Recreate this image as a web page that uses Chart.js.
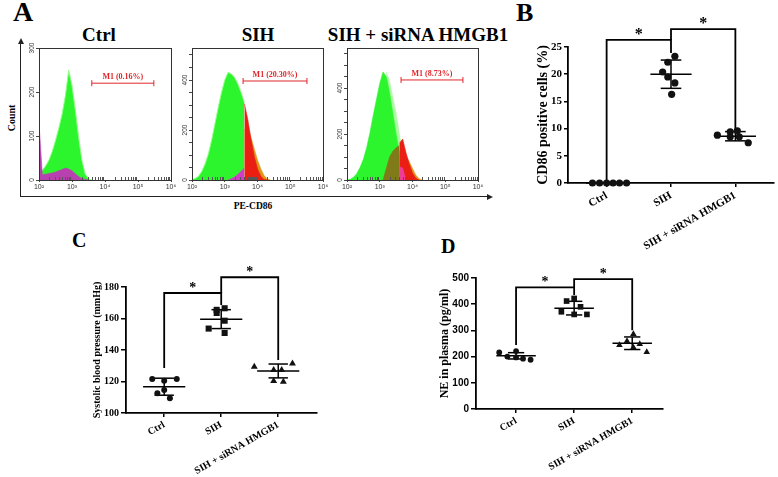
<!DOCTYPE html>
<html>
<head>
<meta charset="utf-8">
<script src="https://cdn.jsdelivr.net/npm/chart.js@4.4.0/dist/chart.umd.min.js"></script>
<style>
  body { margin: 0; background: #fff; }
  #fig { position: relative; width: 778px; height: 477px; overflow: hidden; font-family: "Liberation Serif", "Times New Roman", serif; }
  canvas { position: absolute; }
  .lbl { position: absolute; font-weight: bold; color: #000; white-space: nowrap; line-height: 1; }
  .ctr { text-align: center; width: 200px; }
  .frame { position: absolute; left: 20px; top: 43px; width: 467px; height: 153px; border-left: 1.3px solid #222; border-bottom: 1.3px solid #222; }
  .arrUp { position: absolute; left: 17.6px; top: 38px; width: 0; height: 0; border-left: 3px solid transparent; border-right: 3px solid transparent; border-bottom: 6px solid #222; }
  .arrRight { position: absolute; left: 487px; top: 193.6px; width: 0; height: 0; border-top: 3px solid transparent; border-bottom: 3px solid transparent; border-left: 6px solid #222; }
</style>
</head>
<body>
<div id="fig">
  <div class="lbl" style="left:13px;top:-2px;font-size:28px">A</div>
  <div class="lbl" style="left:516px;top:0px;font-size:26px">B</div>
  <div class="lbl" style="left:72px;top:230px;font-size:20px">C</div>
  <div class="lbl" style="left:441px;top:236px;font-size:20px">D</div>

  <div class="lbl ctr" style="left:-1px;top:25px;font-size:19px">Ctrl</div>
  <div class="lbl ctr" style="left:158px;top:25px;font-size:19px">SIH</div>
  <div class="lbl ctr" style="left:318px;top:25px;font-size:19px">SIH + siRNA HMGB1</div>
  <div class="lbl" style="left:12px;top:118px;font-size:10px;transform:translate(-50%,-50%) rotate(-90deg)">Count</div>
  <div class="lbl" style="left:253px;top:207px;font-size:9.5px;transform:translate(-50%,-50%)">PE-CD86</div>

  <div class="frame"></div>
  <div class="arrUp"></div>
  <div class="arrRight"></div>

  <canvas id="hCtrl" width="154" height="156" style="left:24px;top:40px"></canvas>
  <canvas id="hSih" width="153" height="156" style="left:178px;top:40px"></canvas>
  <canvas id="hKd" width="154" height="156" style="left:332px;top:40px"></canvas>
  <canvas id="chartB" width="278" height="272" style="left:500px;top:0px"></canvas>
  <canvas id="chartC" width="280" height="227" style="left:60px;top:250px"></canvas>
  <canvas id="chartD" width="270" height="217" style="left:420px;top:260px"></canvas>
</div>

<script>
/* ================================================================
   CD86 / SIH figure: flow histograms (A) + dot plots (B, C, D)
   ================================================================ */

// ── A: histogram bins, x = log10(PE-CD86 intensity) ─────────────
var histBins = [2.0, 2.1, 2.2, 2.3, 2.4, 2.5, 2.6, 2.7, 2.8, 2.9, 3.0, 3.1, 3.2,
                3.3, 3.4, 3.5, 3.6, 3.7, 3.8, 3.9, 4.0, 4.1, 4.2, 4.3, 4.4, 4.5];
var histDecades = [2, 3, 4, 5, 6];

var ctrlGreen   = [12, 22, 32, 45, 65, 90, 118, 150, 192, 250, 215, 160, 98, 45, 14, 3, 0,
                   null, null, null, null, null, null, null, null, null];
var ctrlMagenta = [130, 12, 13, 15, 16, 18, 21, 24, 27, 25, 21, 14, 8, 3, 1, 0,
                   null, null, null, null, null, null, null, null, null, null];

var sihGreen   = [2, 6, 15, 35, 65, 105, 160, 225, 290, 350, 400, 430, 425, 410, 385, 350, 310,
                  null, null, null, null, null, null, null, null, null];
var sihMagenta = [null, null, null, null, null, null, null, null, null, null, null,
                  0, 5, 12, 22, 35, 48, null, null, null, null, null, null, null, null, null];
var sihRed     = [null, null, null, null, null, null, null, null, null, null, null, null, null, null, null, null,
                  305, 245, 165, 95, 45, 15, 2, 0, null, null];
var sihOrange  = [null, null, null, null, null, null, null, null, null, null, null, null, null, null, null, null,
                  200, 210, 170, 125, 80, 45, 18, 4, 0, null];

var kdPale    = [null, null, null, null, null, null, null, null, null, null, null, null,
                 470, 430, 360, 290, 200, 110, 40, 8, 0, null, null, null, null, null];
var kdGreen   = [0, 3, 12, 28, 55, 90, 140, 205, 280, 350, 420, 470, 450, 380, 290, 200, 120, 60, 20, 0,
                 null, null, null, null, null, null];
var kdOlive   = [null, null, null, null, null, null, null, null, null, null, null,
                 0, 50, 100, 125, 140, 150, null, null, null, null, null, null, null, null, null];
var kdRed     = [null, null, null, null, null, null, null, null, null, null, null, null, null, null, null, null,
                 160, 178, 120, 70, 30, 8, 0, null, null, null];
var kdOrange  = [null, null, null, null, null, null, null, null, null, null, null, null, null, null, null, null,
                 110, 120, 105, 80, 50, 22, 5, 0, null, null];
var kdMagenta = [null, null, null, null, null, null, null, null, null, null, null, null, null, null, null, null,
                 58, 52, 0, null, null, null, null, null, null, null];

var gateText  = ['M1 (0.16%)', 'M1 (20.30%)', 'M1 (8.73%)'];
var gateRange = [[3.6, 5.48], [3.56, 5.51], [3.65, 5.54]];

// ── B / C / D: dot plots ────────────────────────────────────────
var groupNames = ['Ctrl', 'SIH', 'SIH + siRNA HMGB1'];

var cd86Ctrl = [0, 0, 0, 0, 0, 0];
var cd86Sih  = [23.3, 22.2, 20.4, 19.5, 18.4, 16.3];
var cd86Kd   = [8.8, 9.4, 9.6, 8.5, 8.5, 7.4];
var cd86Mean = [0, 20.0, 8.6];
var cd86Sd   = [0, 2.6, 0.85];
var cd86Sig  = [[0, 26.3, 23.9], [26.3, 28.3, 9.6]];      // [left foot, top, right foot]
var cd86Ticks = [0, 5, 10, 15, 20, 25];

var sbpCtrl = [121.6, 120.5, 121.6, 112.5, 114.6, 109.3];
var sbpSih  = [165.5, 166.5, 163.5, 158.6, 153.6, 150.8];
var sbpKd   = [129.4, 127.3, 127.3, 131.5, 120.3, 119.9];
var sbpMean = [116.7, 159.6, 126.7];
var sbpSd   = [5.4, 6.0, 4.4];
var sbpSig  = [[128.5, 176.2, 168.6], [176.2, 186.2, 133.7]];
var sbpTicks = [100, 120, 140, 160, 180];

var neCtrl = [216, 200, 221, 197, 192, 188];
var neSih  = [412, 422, 390, 371, 361, 361];
var neKd   = [286, 244, 259, 248, 235, 217];
var neMean = [203, 385, 251];
var neSd   = [12, 26, 24];
var neSig  = [[244, 464, 435], [464, 496, 301]];
var neTicks = [0, 100, 200, 300, 400, 500];

// horizontal scatter of the dots inside each column (layout only)
var spreadB = [[-0.22, -0.11, 0, 0.1, 0.2, 0.31], [0.06, -0.05, -0.13, -0.05, 0.06, 0.01], [-0.28, -0.08, 0.03, -0.08, 0.06, 0.2]];
var spreadC = [[-0.21, 0, 0.22, -0.12, 0, 0.1], [-0.08, 0.06, -0.08, 0.06, -0.22, 0.06], [-0.42, -0.08, 0.06, 0.25, -0.08, 0.09]];
var spreadD = [[-0.29, -0.15, 0, 0, 0.12, 0.25], [-0.13, 0, 0.11, -0.22, 0, 0.22], [0.02, -0.22, -0.09, 0.13, 0.02, 0.25]];

var SERIF = '"Liberation Serif", "Times New Roman", serif';
var SANS = '"Liberation Sans", Arial, sans-serif';
var SUP = { 2: '\u00B2', 3: '\u00B3', 4: '\u2074', 5: '\u2075', 6: '\u2076' };

/* ── histogram decoration: frame, log minor ticks, rotated count labels, gate label ── */
var histDecor = {
    id: 'histDecor',
    afterDraw: function (chart, args, opts) {
        var ctx = chart.ctx, a = chart.chartArea;
        var xs = chart.scales.x, ys = chart.scales.y;
        ctx.save();
        ctx.strokeStyle = '#333';
        ctx.lineWidth = 1;
        ctx.strokeRect(a.left + 0.5, a.top + 0.5, a.right - a.left, a.bottom - a.top);

        ctx.strokeStyle = '#555';
        ctx.beginPath();
        for (var d = 2; d < 6; d++) {
            for (var k = 2; k < 10; k++) {
                var px = Math.round(xs.getPixelForValue(d + Math.log10(k))) + 0.5;
                ctx.moveTo(px, a.bottom);
                ctx.lineTo(px, a.bottom - 3);
            }
        }
        ctx.stroke();

        ctx.fillStyle = '#333';
        ctx.font = '6.5px ' + SANS;
        ctx.textAlign = 'center';
        ctx.textBaseline = 'middle';
        opts.yLabels.forEach(function (v) {
            ctx.save();
            ctx.translate(a.left - 7, ys.getPixelForValue(v));
            ctx.rotate(-Math.PI / 2);
            ctx.fillText(String(v), 0, 0);
            ctx.restore();
        });

        var g = opts.gate;
        ctx.fillStyle = '#e0262a';
        ctx.font = 'bold 8px ' + SERIF;
        ctx.textBaseline = 'alphabetic';
        ctx.fillText(g.text, (xs.getPixelForValue(g.from) + xs.getPixelForValue(g.to)) / 2, ys.getPixelForValue(g.level) - 4);
        ctx.restore();
    }
};

function binPoints(values) {
    var pts = [];
    values.forEach(function (v, i) {
        if (v !== null) pts.push({ x: histBins[i], y: v });
    });
    return pts;
}

function histChart(id, layers, yMax, yStep, yLabels, gate, pad) {
    var datasets = layers.map(function (l, i) {
        return {
            data: binPoints(l.values),
            backgroundColor: l.fill,
            borderColor: l.line || l.fill,
            borderWidth: l.line ? 1 : 0.6,
            fill: 'origin',
            pointRadius: 0,
            tension: 0,
            order: layers.length - i + 1
        };
    });
    datasets.push({
        data: [{ x: gate.from, y: gate.level }, { x: gate.to, y: gate.level }],
        borderColor: '#e0262a',
        borderWidth: 1,
        fill: false,
        pointStyle: 'line',
        pointRadius: 3,
        pointRotation: 90,
        pointBorderColor: '#e0262a',
        pointBorderWidth: 1,
        order: 0
    });

    return new Chart(document.getElementById(id), {
        type: 'line',
        data: { datasets: datasets },
        options: {
            responsive: false,
            animation: false,
            events: [],
            layout: { padding: pad },
            plugins: {
                legend: { display: false },
                tooltip: { enabled: false },
                histDecor: { yLabels: yLabels, gate: gate }
            },
            scales: {
                x: {
                    type: 'linear', min: 2, max: 6,
                    afterBuildTicks: function (s) { s.ticks = histDecades.map(function (v) { return { value: v }; }); },
                    afterFit: function (s) { s.height = 12; },
                    ticks: {
                        color: '#333', padding: 1, font: { size: 7, family: SANS },
                        callback: function (v) { return '10' + SUP[v]; }
                    },
                    grid: { drawOnChartArea: false, tickLength: 2, color: '#444' },
                    border: { display: false }
                },
                y: {
                    min: 0, max: yMax,
                    afterFit: function (s) { s.width = 0; },
                    ticks: { display: false, stepSize: yStep, includeBounds: false },
                    grid: { drawOnChartArea: false, tickLength: 3, color: '#444' },
                    border: { display: false }
                }
            }
        },
        plugins: [histDecor]
    });
}

var GREEN = 'rgb(45,245,45)', GREEN_EDGE = 'rgb(150,255,140)', PALE = 'rgb(175,250,165)';
var RED = 'rgb(235,30,20)', ORANGE = 'rgb(222,150,25)', OLIVE = 'rgb(128,122,25)';

// layers listed bottom -> top
histChart('hCtrl', [
    { values: ctrlGreen, fill: GREEN, line: GREEN_EDGE },
    { values: ctrlMagenta, fill: 'rgb(185,65,175)' }
], 300, 100, [0, 100, 200, 300],
   { text: gateText[0], from: gateRange[0][0], to: gateRange[0][1], level: 220 },
   { left: 15, top: 8, right: 7, bottom: 4 });

histChart('hSih', [
    { values: sihGreen, fill: GREEN, line: GREEN_EDGE },
    { values: sihOrange, fill: ORANGE },
    { values: sihRed, fill: RED },
    { values: sihMagenta, fill: 'rgb(210,60,200)' }
], 528, 50, [0, 200, 400],
   { text: gateText[1], from: gateRange[1][0], to: gateRange[1][1], level: 396 },
   { left: 14, top: 8, right: 8, bottom: 4 });

histChart('hKd', [
    { values: kdPale, fill: PALE },
    { values: kdGreen, fill: GREEN },
    { values: kdOlive, fill: OLIVE },
    { values: kdOrange, fill: ORANGE },
    { values: kdRed, fill: RED },
    { values: kdMagenta, fill: 'rgb(240,60,150)' }
], 574, 50, [0, 200, 400],
   { text: gateText[2], from: gateRange[2][0], to: gateRange[2][1], level: 435 },
   { left: 15, top: 8, right: 8, bottom: 4 });

/* ── dot plots ──────────────────────────────────────────────── */
var sigStars = {
    id: 'sigStars',
    afterDatasetsDraw: function (chart, args, opts) {
        var ctx = chart.ctx, xs = chart.scales.x, ys = chart.scales.y;
        ctx.save();
        ctx.fillStyle = '#000';
        ctx.font = 'bold ' + opts.size + 'px ' + SERIF;
        ctx.textAlign = 'center';
        ctx.textBaseline = 'alphabetic';
        opts.brackets.forEach(function (b, i) {
            ctx.fillText('*', xs.getPixelForValue(i + 0.5), ys.getPixelForValue(b[1]) - 1);
        });
        ctx.restore();
    }
};

function seg(pts, w) {
    return {
        data: pts.map(function (p) { return { x: p[0], y: p[1] }; }),
        showLine: true, pointRadius: 0, borderColor: '#000', borderWidth: w,
        fill: false, clip: false
    };
}

function dotPlot(id, p) {
    var ds = [];
    p.groups.forEach(function (vals, g) {
        ds.push({
            data: vals.map(function (v, j) { return { x: g + p.spread[g][j], y: v }; }),
            pointStyle: p.markers[g],
            pointRadius: p.sizes[g],
            backgroundColor: '#111', borderColor: '#111', borderWidth: 0,
            showLine: false, clip: false
        });
    });
    p.groups.forEach(function (vals, g) {
        var m = p.mean[g], s = p.sd[g];
        ds.push(seg([[g - p.meanHalf, m], [g + p.meanHalf, m]], 1.5));
        if (s > 0) {
            ds.push(seg([[g - p.capHalf, m + s], [g + p.capHalf, m + s]], 1.5));
            ds.push(seg([[g - p.capHalf, m - s], [g + p.capHalf, m - s]], 1.5));
            ds.push(seg([[g, m - s], [g, m + s]], 1.5));
        }
    });
    p.sig.forEach(function (b, i) {
        ds.push(seg([[i, b[0]], [i, b[1]], [i + 1, b[1]], [i + 1, b[2]]], 1.8));
    });

    return new Chart(document.getElementById(id), {
        type: 'scatter',
        data: { datasets: ds },
        options: {
            responsive: false,
            animation: false,
            events: [],
            layout: { padding: p.pad },
            plugins: {
                legend: { display: false },
                tooltip: { enabled: false },
                sigStars: { brackets: p.sig, size: p.starSize }
            },
            scales: {
                x: {
                    type: 'linear', min: p.xMin, max: p.xMax,
                    afterBuildTicks: function (s) { s.ticks = [0, 1, 2].map(function (v) { return { value: v }; }); },
                    afterFit: function (s) { s.height = p.xH; },
                    ticks: {
                        color: '#000', padding: 2, autoSkip: false, minRotation: 30, maxRotation: 30,
                        font: { size: p.xFont, weight: 'bold', family: SERIF },
                        callback: function (v) { return groupNames[v]; }
                    },
                    grid: { drawOnChartArea: false, tickLength: 4, color: '#000', lineWidth: 1.5 },
                    border: { color: '#000', width: 1.8 }
                },
                y: {
                    min: p.yTicks[0], max: p.yTicks[p.yTicks.length - 1],
                    afterBuildTicks: function (s) { s.ticks = p.yTicks.map(function (v) { return { value: v }; }); },
                    afterFit: function (s) { s.width = p.yW; },
                    ticks: { color: '#000', padding: 2, font: { size: p.yFont, weight: 'bold', family: p.yFamily } },
                    grid: { drawOnChartArea: false, tickLength: p.tickLen, color: '#000', lineWidth: 1.5 },
                    border: { color: '#000', width: 1.8 },
                    title: {
                        display: true, text: p.title, color: '#000', padding: 0,
                        font: { size: p.titleSize, weight: 'bold', family: SERIF }
                    }
                }
            }
        },
        plugins: [sigStars]
    });
}

// ── B: CD86 positive cells ──────────────────────────────────────
dotPlot('chartB', {
    groups: [cd86Ctrl, cd86Sih, cd86Kd], spread: spreadB,
    markers: ['circle', 'circle', 'circle'], sizes: [3.6, 3.6, 3.6],
    mean: cd86Mean, sd: cd86Sd, sig: cd86Sig, yTicks: cd86Ticks,
    meanHalf: 0.32, capHalf: 0.16, starSize: 16,
    xMin: -0.6, xMax: 2.6, xFont: 11, xH: 89,
    yW: 33, yFont: 11, yFamily: SERIF, tickLen: 4,
    title: 'CD86 positive cells (%)', titleSize: 14,
    pad: { left: 35, top: 47, right: 3, bottom: 0 }
});

// ── C: systolic blood pressure ──────────────────────────────────
dotPlot('chartC', {
    groups: [sbpCtrl, sbpSih, sbpKd], spread: spreadC,
    markers: ['circle', 'rect', 'triangle'], sizes: [3, 4.3, 4],
    mean: sbpMean, sd: sbpSd, sig: sbpSig, yTicks: sbpTicks,
    meanHalf: 0.37, capHalf: 0.17, starSize: 14,
    xMin: -0.67, xMax: 2.68, xFont: 10, xH: 64,
    yW: 35, yFont: 10, yFamily: SERIF, tickLen: 5,
    title: 'Systolic blood pressure (mmHg)', titleSize: 10,
    pad: { left: 31, top: 37, right: 23, bottom: 0 }
});

// ── D: NE in plasma ─────────────────────────────────────────────
dotPlot('chartD', {
    groups: [neCtrl, neSih, neKd], spread: spreadD,
    markers: ['circle', 'rect', 'triangle'], sizes: [2.9, 4, 3.8],
    mean: neMean, sd: neSd, sig: neSig, yTicks: neTicks,
    meanHalf: 0.34, capHalf: 0.14, starSize: 14,
    xMin: -0.69, xMax: 2.53, xFont: 10, xH: 68,
    yW: 38, yFont: 10, yFamily: SANS, tickLen: 5,
    title: 'NE in plasma (pg/ml)', titleSize: 12,
    pad: { left: 18, top: 18, right: 27, bottom: 0 }
});
</script>
</body>
</html>
